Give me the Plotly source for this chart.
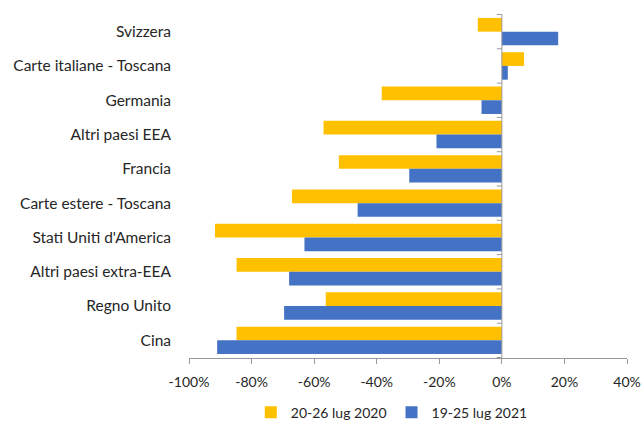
import plotly.graph_objects as go

categories = ["Svizzera", "Carte italiane - Toscana", "Germania", "Altri paesi EEA",
              "Francia", "Carte estere - Toscana", "Stati Uniti d'America",
              "Altri paesi extra-EEA", "Regno Unito", "Cina"]
series_2020 = [-7.7, 7.1, -38.4, -57.0, -52.1, -67.1, -91.7, -84.8, -56.3, -84.8]
series_2021 = [18.0, 1.9, -6.5, -20.9, -29.6, -46.1, -63.1, -68.0, -69.6, -91.0]
names = ["20-26 lug 2020", "19-25 lug 2021"]
colors = ["#FFC000", "#4472C4"]
x_ticks = [-100, -80, -60, -40, -20, 0, 20, 40]
x_tick_labels = ["-100%", "-80%", "-60%", "-40%", "-20%", "0%", "20%", "40%"]

fig = go.Figure()
for name, vals, col in zip(names, [series_2020, series_2021], colors):
    fig.add_trace(go.Bar(y=categories, x=vals, name=name, orientation="h",
                         marker=dict(color=col, line=dict(width=0))))

axis_col = "#999999"
shapes = [dict(type="line", xref="x", yref="y", x0=0, x1=0, y0=-0.5, y1=len(categories) - 0.5,
               line=dict(color=axis_col, width=1))]
for i in range(len(categories) + 1):
    shapes.append(dict(type="line", xref="x", yref="y", x0=-1.6, x1=0, y0=i - 0.5, y1=i - 0.5,
                       line=dict(color=axis_col, width=1)))

fig.update_layout(
    width=643, height=425,
    margin=dict(l=189, r=16, t=14, b=67, autoexpand=False),
    paper_bgcolor="white", plot_bgcolor="white",
    barmode="group", bargap=0.2, bargroupgap=0,
    font=dict(family="Lato, Open Sans, sans-serif", size=15.5, color="#262626"),
    showlegend=True,
    legend=dict(orientation="h", x=0.463, xanchor="center", y=-0.112, yanchor="top",
                font=dict(size=14), traceorder="normal", itemwidth=30,
                tracegroupgap=0),
    shapes=shapes,
    xaxis=dict(range=[-100, 40], tickmode="array", tickvals=x_ticks, ticktext=x_tick_labels,
               tickfont=dict(size=14),
               showgrid=False, zeroline=False, showline=True, linecolor=axis_col,
               ticks="outside", ticklen=5, tickcolor=axis_col, automargin=False,
               ticklabelstandoff=6),
    yaxis=dict(categoryorder="array", categoryarray=categories, autorange="reversed",
               showgrid=False, zeroline=False, showline=False, ticks="",
               ticklabelstandoff=17, automargin=False),
)

fig.write_html("out.html", config={"displayModeBar": False},
               post_script="document.body.style.margin='0';")
